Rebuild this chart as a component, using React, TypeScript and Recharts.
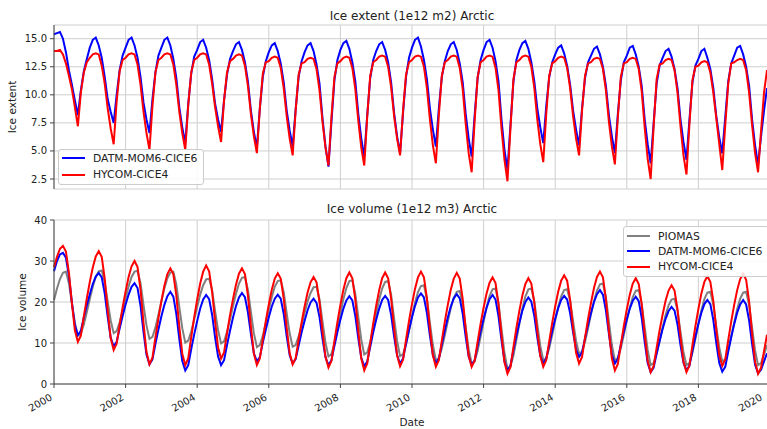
import { LineChart, Line, XAxis, YAxis, CartesianGrid, Legend } from "recharts";

// monthly values, Jan 2000 .. Dec 2019 (one row per year)
const EXTENT_DATM = [
  15.4, 15.5, 15.6, 15.0, 13.8, 12.2, 10.9, 9.5, 8.2, 10.4, 12.1, 13.2,
  14.2, 14.9, 15.1, 14.4, 13.3, 11.6, 9.6, 8.5, 7.5, 10.0, 12.2, 13.5,
  14.2, 14.9, 15.1, 14.4, 13.3, 11.6, 9.3, 7.8, 6.6, 9.6, 12.0, 13.5,
  14.2, 14.9, 15.1, 14.4, 13.2, 11.5, 8.9, 7.1, 5.7, 9.2, 11.9, 13.4,
  14.0, 14.7, 14.9, 14.2, 13.1, 11.4, 9.2, 7.8, 6.7, 9.5, 11.8, 13.2,
  13.9, 14.5, 14.7, 14.0, 12.9, 11.2, 8.6, 6.7, 5.3, 8.8, 11.6, 13.0,
  13.8, 14.4, 14.6, 13.9, 12.8, 11.1, 8.6, 6.8, 5.4, 8.7, 11.6, 13.0,
  13.8, 14.4, 14.6, 13.9, 12.7, 11.0, 7.9, 5.4, 3.6, 7.6, 11.3, 13.1,
  14.0, 14.6, 14.8, 14.1, 12.9, 11.2, 8.3, 6.1, 4.5, 8.2, 11.5, 13.1,
  13.9, 14.5, 14.7, 14.0, 12.9, 11.1, 8.4, 6.3, 4.8, 8.4, 11.6, 13.3,
  14.2, 14.9, 15.1, 14.3, 13.1, 11.4, 8.8, 6.9, 5.4, 8.8, 11.6, 13.0,
  13.9, 14.5, 14.7, 14.0, 12.8, 11.1, 8.3, 6.1, 4.5, 8.2, 11.5, 13.1,
  14.0, 14.7, 14.9, 14.2, 13.0, 11.2, 7.8, 5.1, 3.3, 7.3, 11.2, 13.1,
  14.0, 14.6, 14.8, 14.1, 12.9, 11.2, 8.8, 7.1, 5.7, 9.0, 11.6, 12.9,
  13.6, 14.2, 14.4, 13.7, 12.6, 10.9, 8.6, 6.9, 5.5, 8.8, 11.5, 12.9,
  13.5, 14.1, 14.3, 13.6, 12.5, 10.8, 8.2, 6.3, 4.8, 8.3, 11.3, 12.9,
  13.5, 14.2, 14.35, 13.6, 12.5, 10.8, 7.8, 5.6, 3.9, 7.5, 11.0, 12.6,
  13.3, 13.9, 14.1, 13.4, 12.3, 10.6, 7.8, 5.8, 4.2, 7.8, 11.1, 12.6,
  13.2, 13.9, 14.1, 13.3, 12.3, 10.6, 8.1, 6.2, 4.8, 8.0, 11.2, 12.8,
  13.5, 14.2, 14.35, 13.6, 12.5, 10.8, 7.8, 5.5, 3.75, 6.3, 8.6, 10.6,
];

const EXTENT_HYCOM = [
  13.9, 13.9, 14.0, 13.6, 12.8, 11.7, 10.5, 8.9, 7.2, 10.2, 12.0, 12.9,
  13.3, 13.6, 13.7, 13.6, 12.6, 11.0, 8.8, 7.0, 5.6, 9.4, 12.1, 13.1,
  13.3, 13.6, 13.7, 13.6, 12.7, 10.9, 8.5, 6.6, 5.1, 9.0, 12.0, 13.1,
  13.3, 13.6, 13.7, 13.6, 12.7, 10.9, 8.5, 6.6, 5.1, 9.1, 12.0, 13.1,
  13.3, 13.6, 13.7, 13.6, 12.7, 11.0, 8.9, 7.2, 5.8, 9.5, 12.0, 13.0,
  13.2, 13.5, 13.6, 13.5, 12.6, 10.8, 8.3, 6.3, 4.8, 8.8, 11.9, 12.9,
  13.0, 13.3, 13.4, 13.3, 12.4, 10.6, 8.1, 6.1, 4.6, 8.6, 11.8, 12.8,
  12.9, 13.2, 13.3, 13.2, 12.3, 10.4, 7.6, 5.3, 3.7, 8.0, 11.6, 12.8,
  13.0, 13.3, 13.4, 13.3, 12.4, 10.5, 7.7, 5.3, 3.7, 8.1, 11.7, 12.9,
  13.1, 13.4, 13.5, 13.4, 12.5, 10.7, 8.1, 6.1, 4.6, 8.6, 11.8, 12.9,
  13.1, 13.4, 13.5, 13.4, 12.5, 10.6, 7.8, 5.5, 3.9, 8.2, 11.7, 12.9,
  13.1, 13.4, 13.5, 13.4, 12.4, 10.5, 7.4, 4.8, 3.1, 7.7, 11.6, 12.9,
  13.1, 13.4, 13.5, 13.4, 12.4, 10.4, 7.0, 4.2, 2.3, 7.0, 11.4, 12.9,
  13.1, 13.4, 13.5, 13.4, 12.5, 10.6, 7.8, 5.6, 4.0, 8.3, 11.7, 12.8,
  13.0, 13.3, 13.4, 13.3, 12.4, 10.6, 8.1, 6.1, 4.6, 8.6, 11.7, 12.8,
  12.9, 13.2, 13.3, 13.2, 12.3, 10.4, 7.6, 5.4, 3.8, 8.0, 11.6, 12.8,
  12.9, 13.2, 13.3, 13.2, 12.3, 10.3, 7.1, 4.3, 2.5, 7.2, 11.4, 12.7,
  12.8, 13.1, 13.2, 13.1, 12.2, 10.2, 7.2, 4.6, 2.9, 7.4, 11.3, 12.5,
  12.6, 12.9, 13.0, 12.9, 12.0, 10.2, 7.9, 5.6, 3.3, 7.3, 11.0, 12.8,
  12.9, 13.1, 13.2, 13.1, 12.2, 10.2, 7.3, 4.8, 3.1, 6.8, 10.2, 12.2,
];

const VOLUME_PIOMAS = [
  20.5, 23.3, 25.6, 27.1, 27.4, 24.6, 19.6, 14.9, 11.8, 12.3, 14.5, 17.5,
  20.7, 23.7, 26.1, 27.5, 27.7, 24.9, 20.1, 15.5, 12.4, 12.9, 15.0, 17.9,
  20.9, 23.8, 26.1, 27.4, 27.6, 24.6, 19.3, 14.3, 11.0, 11.5, 13.8, 16.9,
  20.2, 23.3, 25.8, 27.2, 27.4, 24.3, 18.8, 13.6, 10.1, 10.6, 12.8, 15.7,
  18.8, 21.8, 24.1, 25.5, 25.7, 22.9, 17.8, 13.1, 9.9, 10.4, 12.7, 15.7,
  19.0, 22.0, 24.5, 25.9, 26.1, 23.0, 17.6, 12.4, 9.0, 9.5, 11.8, 14.9,
  18.1, 21.2, 23.7, 25.1, 25.3, 22.4, 17.2, 12.3, 9.1, 9.5, 11.6, 14.4,
  17.3, 20.1, 22.2, 23.6, 23.7, 20.6, 15.2, 10.1, 6.7, 7.3, 9.9, 13.4,
  17.1, 20.7, 23.4, 25.1, 25.3, 22.0, 16.3, 10.8, 7.2, 7.7, 10.2, 13.6,
  17.2, 20.6, 23.3, 24.9, 25.1, 21.8, 16.0, 10.5, 6.8, 7.3, 9.7, 13.0,
  16.5, 19.8, 22.4, 23.9, 24.1, 20.8, 15.0, 9.5, 5.8, 6.3, 8.7, 11.9,
  15.3, 18.5, 21.0, 22.5, 22.7, 19.5, 13.9, 8.5, 5.0, 5.5, 8.1, 11.6,
  15.2, 18.7, 21.5, 23.1, 23.3, 19.8, 13.5, 7.6, 3.7, 4.3, 7.0, 10.8,
  14.7, 18.4, 21.3, 23.1, 23.3, 20.2, 14.6, 9.3, 5.8, 6.3, 8.7, 12.0,
  15.5, 18.8, 21.4, 22.9, 23.1, 20.3, 15.3, 10.5, 7.4, 7.9, 10.3, 13.6,
  17.0, 20.2, 22.8, 24.3, 24.5, 21.1, 15.2, 9.5, 5.8, 6.3, 8.7, 12.0,
  15.4, 18.6, 21.2, 22.7, 22.9, 19.6, 13.8, 8.3, 4.6, 5.1, 7.4, 10.4,
  13.7, 16.8, 19.2, 20.6, 20.8, 17.9, 12.7, 7.8, 4.6, 5.1, 7.6, 11.0,
  14.6, 18.0, 20.7, 22.3, 22.5, 19.4, 14.0, 8.9, 5.5, 6.0, 8.4, 11.6,
  15.0, 18.3, 20.8, 22.3, 22.5, 19.3, 13.6, 8.2, 4.6, 5.1, 7.2, 9.5,
];

const VOLUME_DATM = [
  27.5, 30.0, 31.6, 32.0, 30.8, 26.4, 19.9, 14.3, 11.9, 13.0, 16.2, 19.2,
  21.9, 24.4, 26.2, 27.1, 26.0, 22.1, 16.4, 11.3, 9.2, 10.3, 13.5, 16.6,
  19.4, 21.8, 23.7, 24.6, 23.4, 19.1, 12.7, 7.2, 4.8, 6.0, 9.8, 13.3,
  16.5, 19.3, 21.4, 22.5, 21.3, 17.1, 11.0, 5.6, 3.3, 4.6, 8.5, 12.1,
  15.4, 18.4, 20.6, 21.7, 20.7, 16.9, 11.4, 6.7, 4.6, 5.8, 9.5, 13.0,
  16.2, 19.0, 21.1, 22.2, 21.2, 17.5, 12.2, 7.5, 5.5, 6.6, 10.1, 13.3,
  16.3, 18.9, 20.8, 21.8, 20.8, 17.1, 11.7, 7.0, 5.0, 6.1, 9.4, 12.6,
  15.4, 18.0, 19.9, 20.8, 19.8, 16.3, 11.1, 6.5, 4.6, 5.8, 9.3, 12.7,
  15.7, 18.4, 20.4, 21.4, 20.4, 16.6, 11.1, 6.4, 4.3, 5.5, 9.1, 12.6,
  15.7, 18.4, 20.5, 21.5, 20.5, 16.9, 11.6, 7.0, 5.0, 6.2, 9.8, 13.2,
  16.3, 19.0, 21.1, 22.1, 21.1, 17.3, 11.8, 7.1, 5.0, 6.2, 9.7, 13.1,
  16.2, 18.9, 20.9, 21.9, 20.9, 17.1, 11.5, 6.7, 4.6, 5.8, 9.4, 12.8,
  15.9, 18.6, 20.7, 21.7, 20.6, 16.5, 10.7, 5.5, 3.3, 4.5, 8.3, 11.8,
  15.0, 17.9, 20.0, 21.1, 20.1, 16.6, 11.4, 6.9, 5.0, 6.2, 9.6, 12.9,
  15.9, 18.5, 20.5, 21.5, 20.6, 17.3, 12.6, 8.4, 6.6, 7.7, 11.2, 14.4,
  17.4, 20.0, 21.9, 22.9, 21.8, 17.9, 12.2, 7.1, 5.0, 6.1, 9.6, 12.8,
  15.8, 18.4, 20.3, 21.3, 20.2, 16.1, 10.3, 5.1, 2.9, 4.0, 7.4, 10.5,
  13.4, 15.9, 17.8, 18.8, 17.9, 14.5, 9.5, 5.2, 3.3, 4.5, 8.1, 11.6,
  14.7, 17.4, 19.5, 20.5, 19.5, 15.6, 10.0, 5.1, 3.0, 4.2, 7.9, 11.4,
  14.6, 17.4, 19.4, 20.5, 19.4, 15.5, 9.8, 4.7, 2.6, 3.5, 5.5, 7.5,
];

const VOLUME_HYCOM = [
  28.5, 31.0, 33.0, 33.7, 32.3, 27.1, 19.7, 13.1, 10.3, 11.8, 16.5, 20.9,
  24.9, 28.4, 31.1, 32.4, 31.0, 25.7, 17.9, 11.2, 8.3, 9.8, 14.4, 18.7,
  22.6, 26.1, 28.7, 30.0, 28.5, 23.0, 14.9, 7.8, 4.8, 6.4, 11.4, 16.0,
  20.2, 24.0, 26.8, 28.2, 26.8, 21.6, 14.0, 7.4, 4.6, 6.3, 11.4, 16.3,
  20.6, 24.5, 27.4, 28.9, 27.5, 22.5, 15.3, 8.9, 6.2, 7.7, 12.4, 16.8,
  20.7, 24.2, 26.9, 28.2, 26.8, 21.6, 14.0, 7.4, 4.6, 6.2, 10.9, 15.4,
  19.4, 23.0, 25.7, 27.0, 25.7, 20.8, 13.7, 7.5, 4.8, 6.3, 10.8, 15.0,
  18.9, 22.3, 24.8, 26.1, 24.8, 19.9, 12.8, 6.7, 4.0, 5.6, 10.5, 15.1,
  19.3, 23.0, 25.8, 27.2, 25.8, 20.5, 12.9, 6.2, 3.3, 5.0, 10.0, 14.8,
  19.1, 22.9, 25.8, 27.2, 25.8, 20.8, 13.5, 7.0, 4.3, 5.9, 10.8, 15.4,
  19.5, 23.2, 26.0, 27.4, 26.0, 20.9, 13.5, 7.0, 4.2, 5.8, 10.6, 15.2,
  19.3, 23.0, 25.7, 27.1, 25.7, 20.7, 13.4, 6.9, 4.2, 5.7, 10.3, 14.7,
  18.6, 22.1, 24.7, 26.0, 24.6, 19.4, 11.9, 5.3, 2.5, 4.1, 9.0, 13.7,
  17.9, 21.6, 24.4, 25.8, 24.5, 19.8, 12.8, 6.8, 4.2, 5.8, 10.4, 14.9,
  18.9, 22.5, 25.2, 26.5, 25.2, 20.5, 13.6, 7.6, 5.0, 6.6, 11.3, 15.8,
  19.8, 23.4, 26.1, 27.4, 26.0, 20.7, 12.9, 6.2, 3.3, 4.9, 9.6, 14.1,
  18.2, 21.8, 24.5, 25.8, 24.4, 19.4, 12.1, 5.6, 2.9, 4.4, 8.8, 13.1,
  16.9, 20.3, 22.8, 24.1, 22.8, 18.2, 11.4, 5.4, 2.9, 4.5, 9.5, 14.1,
  18.3, 22.1, 24.9, 26.3, 24.9, 20.2, 13.2, 7.0, 4.4, 6.0, 10.7, 15.2,
  19.3, 22.9, 25.6, 26.9, 25.4, 20.1, 12.3, 5.4, 2.5, 4.0, 8.0, 12.0,
];

const YEAR_TICKS = [2000, 2002, 2004, 2006, 2008, 2010, 2012, 2014, 2016, 2018, 2020];
const EXTENT_TICKS = [2.5, 5, 7.5, 10, 12.5, 15];
const VOLUME_TICKS = [0, 10, 20, 30, 40];

const FONT = "'DejaVu Sans', sans-serif";
const SPINE = "#444";
const GRID = "#cfcfcf";
const COLORS = { piomas: "#808080", datm: "#0000ff", hycom: "#ff0000" };

const extentData = EXTENT_DATM.map((v, i) => ({
  t: 2000 + i / 12,
  datm: v,
  hycom: EXTENT_HYCOM[i],
}));

const volumeData = VOLUME_DATM.map((v, i) => ({
  t: 2000 + i / 12,
  piomas: VOLUME_PIOMAS[i],
  datm: v,
  hycom: VOLUME_HYCOM[i],
}));

function AxisText({ x0, y0, rot = 0, text }: any) {
  return (
    <text
      x={x0}
      y={y0}
      textAnchor="middle"
      dominantBaseline="central"
      transform={rot ? `rotate(${rot} ${x0} ${y0})` : undefined}
      fontSize={10.5}
      fontFamily={FONT}
      fill="#222"
    >
      {text}
    </text>
  );
}

function DateTick({ x, y, payload }: any) {
  const tx = x - 1;
  const ty = y + 9.3;
  return (
    <text
      x={tx}
      y={ty}
      transform={`rotate(-30 ${tx} ${ty})`}
      textAnchor="end"
      fontSize={10}
      fontFamily={FONT}
      fill="#222"
    >
      {payload.value}
    </text>
  );
}

function LegendBox({ items, rowHeight, pad }: any) {
  return (
    <div
      style={{
        border: "1px solid #cccccc",
        borderRadius: 3,
        background: "rgba(255,255,255,0.85)",
        padding: pad,
        fontFamily: FONT,
        fontSize: 10.8,
        color: "#222",
        whiteSpace: "nowrap",
      }}
    >
      {items.map((it: any) => (
        <div key={it.name} style={{ display: "flex", alignItems: "center", height: rowHeight }}>
          <svg width={23} height={4} style={{ display: "block" }}>
            <line x1={0} y1={2} x2={23} y2={2} stroke={it.color} strokeWidth={2} />
          </svg>
          <span style={{ marginLeft: 8 }}>{it.name}</span>
        </div>
      ))}
    </div>
  );
}

const tickStyle = { fontSize: 10, fill: "#222", fontFamily: FONT };

export default function App() {
  return (
    <div
      style={{
        position: "absolute",
        left: 0,
        top: 0,
        width: 767,
        height: 429,
        overflow: "hidden",
        background: "#fff",
        fontFamily: FONT,
      }}
    >
      <div style={{ position: "absolute", left: 212, width: 400, top: 9, textAlign: "center", fontSize: 12, lineHeight: "14px", color: "#222" }}>
        Ice extent (1e12 m2) Arctic
      </div>
      <div style={{ position: "absolute", left: 212, width: 400, top: 202, textAlign: "center", fontSize: 12, lineHeight: "14px", color: "#222" }}>
        Ice volume (1e12 m3) Arctic
      </div>

      <div style={{ position: "absolute", left: 0, top: 0 }}>
        <LineChart width={780} height={200} data={extentData} margin={{ top: 25, right: 10, bottom: 11, left: 4 }}>
          <CartesianGrid stroke={GRID} strokeWidth={1} />
          <XAxis
            dataKey="t"
            type="number"
            domain={[2000, 2020]}
            ticks={YEAR_TICKS}
            height={0}
            tickFormatter={() => ""}
            stroke={SPINE}
            tickSize={4}
          />
          <XAxis xAxisId="top" dataKey="t" type="number" domain={[2000, 2020]} orientation="top" height={0} tick={false} tickLine={false} stroke={SPINE} />
          <YAxis
            type="number"
            domain={[1.61, 16.22]}
            ticks={EXTENT_TICKS}
            width={50}
            tickFormatter={(v: number) => v.toFixed(1)}
            tick={tickStyle}
            stroke={SPINE}
            tickSize={4}
            tickMargin={3}
            label={<AxisText x0={12} y0={107} rot={-90} text="Ice extent" />}
          />
          <Line dataKey="datm" name="DATM-MOM6-CICE6" stroke={COLORS.datm} strokeWidth={2} dot={false} isAnimationActive={false} />
          <Line dataKey="hycom" name="HYCOM-CICE4" stroke={COLORS.hycom} strokeWidth={2} dot={false} isAnimationActive={false} />
          <Legend
            layout="vertical"
            align="center"
            verticalAlign="middle"
            wrapperStyle={{ left: 58, top: 149, width: "auto", height: "auto" }}
            content={() => (
              <LegendBox
                rowHeight={16.5}
                pad="0px 6px 1px 3px"
                items={[
                  { name: "DATM-MOM6-CICE6", color: COLORS.datm },
                  { name: "HYCOM-CICE4", color: COLORS.hycom },
                ]}
              />
            )}
          />
        </LineChart>
      </div>

      <div style={{ position: "absolute", left: 0, top: 200 }}>
        <LineChart width={780} height={229} data={volumeData} margin={{ top: 20, right: 10, bottom: 0, left: 4 }}>
          <CartesianGrid stroke={GRID} strokeWidth={1} />
          <XAxis
            dataKey="t"
            type="number"
            domain={[2000, 2020]}
            ticks={YEAR_TICKS}
            height={45}
            tick={<DateTick />}
            stroke={SPINE}
            tickSize={4}
            tickMargin={2}
            label={<AxisText x0={412} y0={222} text="Date" />}
          />
          <XAxis xAxisId="top" dataKey="t" type="number" domain={[2000, 2020]} orientation="top" height={0} tick={false} tickLine={false} stroke={SPINE} />
          <YAxis
            type="number"
            domain={[0, 40]}
            ticks={VOLUME_TICKS}
            width={50}
            tick={tickStyle}
            stroke={SPINE}
            tickSize={4}
            tickMargin={3}
            label={<AxisText x0={22} y0={102} rot={-90} text="Ice volume" />}
          />
          <Line dataKey="piomas" name="PIOMAS" stroke={COLORS.piomas} strokeWidth={2} dot={false} isAnimationActive={false} />
          <Line dataKey="datm" name="DATM-MOM6-CICE6" stroke={COLORS.datm} strokeWidth={2} dot={false} isAnimationActive={false} />
          <Line dataKey="hycom" name="HYCOM-CICE4" stroke={COLORS.hycom} strokeWidth={2} dot={false} isAnimationActive={false} />
          <Legend
            layout="vertical"
            align="center"
            verticalAlign="middle"
            wrapperStyle={{ left: 623, top: 26, width: "auto", height: "auto" }}
            content={() => (
              <LegendBox
                rowHeight={15.3}
                pad="1.5px 6px 1.5px 3px"
                items={[
                  { name: "PIOMAS", color: COLORS.piomas },
                  { name: "DATM-MOM6-CICE6", color: COLORS.datm },
                  { name: "HYCOM-CICE4", color: COLORS.hycom },
                ]}
              />
            )}
          />
        </LineChart>
      </div>
    </div>
  );
}
